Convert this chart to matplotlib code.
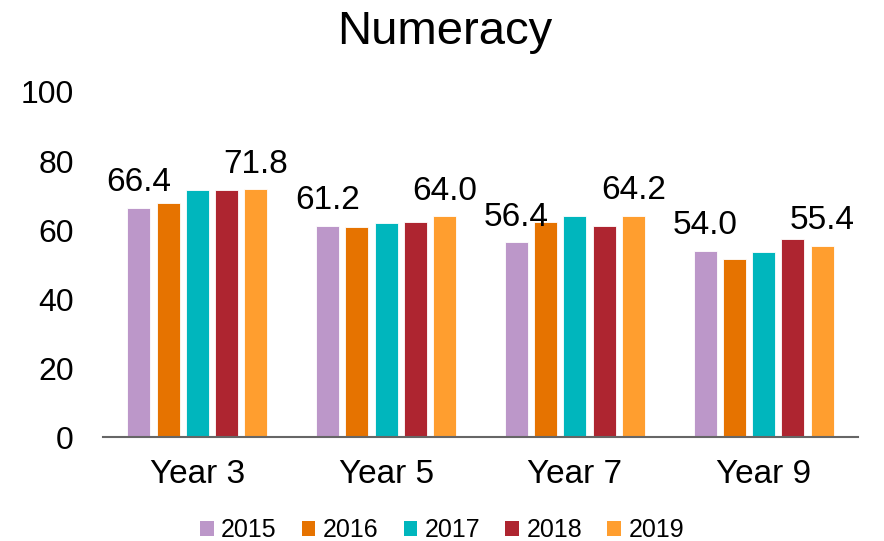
import matplotlib
matplotlib.use("Agg")
import matplotlib.pyplot as plt
from matplotlib.patches import Patch
import numpy as np

plt.rcParams['font.family'] = ['Liberation Sans', 'DejaVu Sans']

categories = ["Year 3", "Year 5", "Year 7", "Year 9"]
series_names = ["2015", "2016", "2017", "2018", "2019"]
v2015 = [66.4, 61.2, 56.4, 54.0]
v2016 = [67.8, 61.0, 62.3, 51.5]
v2017 = [71.7, 61.9, 64.2, 53.7]
v2018 = [71.5, 62.3, 61.1, 57.5]
v2019 = [71.8, 64.0, 64.2, 55.4]
colors = ["#BC97C9", "#E67300", "#00B6BD", "#AE2530", "#FF9E2F"]
labelled = ["2015", "2019"]
yticks = [0, 20, 40, 60, 80, 100]

series = [v2015, v2016, v2017, v2018, v2019]

fig = plt.figure(figsize=(8.84, 5.41), dpi=100)
ax = fig.add_axes([0.1165, 0.192, 0.854, 0.638])

x = np.arange(len(categories))
pitch = 0.155
width = 0.122
for i, (name, vals, col) in enumerate(zip(series_names, series, colors)):
    offs = (i - 2) * pitch
    bars = ax.bar(x + offs, vals, width=width, color=col, edgecolor='white', linewidth=0.6, zorder=2)
    if name in labelled:
        for xb, v in zip(x + offs, vals):
            ax.annotate(f"{v:.1f}", (xb, v), xytext=(0, 12), textcoords='offset points',
                        ha='center', va='baseline', fontsize=24, color='black')

ax.set_xlim(-0.5, len(categories) - 0.5)
ax.set_ylim(0, 100)
ax.set_yticks(yticks)
ax.set_yticklabels([str(t) for t in yticks], fontsize=23)
ax.set_xticks(x)
ax.set_xticklabels(categories, fontsize=24)
ax.tick_params(axis='y', length=0, pad=21)
ax.tick_params(axis='x', length=0, pad=16)
for s in ['top', 'right', 'left']:
    ax.spines[s].set_visible(False)
ax.spines['bottom'].set_color('#666666')
ax.spines['bottom'].set_linewidth(1.5)
ax.spines['bottom'].set_zorder(3)

fig.text(0.503, 1 - 32 / 541, "Numeracy", ha='center', va='center', fontsize=34)

handles = [Patch(facecolor=c, edgecolor='none') for c in colors]
fig.legend(handles, series_names, loc='center', bbox_to_anchor=(0.5, 1 - 530 / 541),
           ncol=5, frameon=False, fontsize=18, handlelength=0.55, handleheight=0.55,
           handletextpad=0.3, columnspacing=1.0)

fig.savefig("out.png", dpi=100)
